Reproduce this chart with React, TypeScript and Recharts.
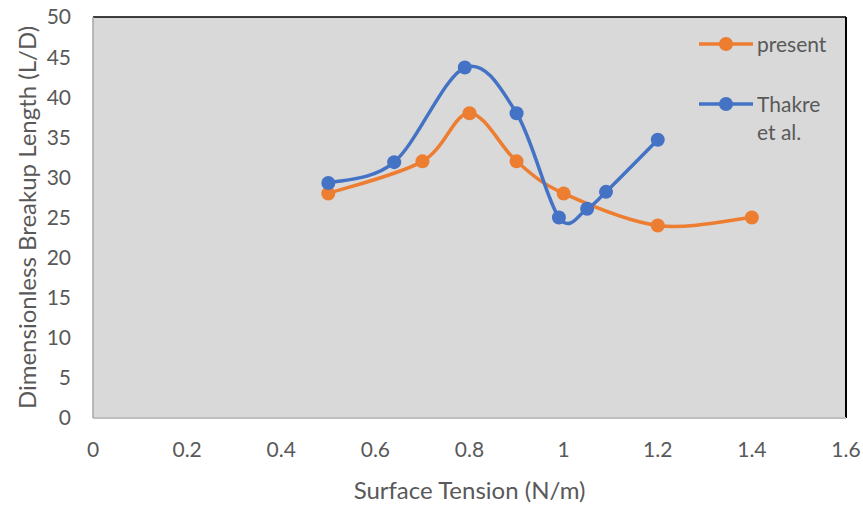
import { LineChart, Line, XAxis, YAxis, CartesianGrid, Legend, ReferenceLine } from 'recharts';

const xTicks = [0, 0.2, 0.4, 0.6, 0.8, 1, 1.2, 1.4, 1.6];
const yTicks = [0, 5, 10, 15, 20, 25, 30, 35, 40, 45, 50];

const seriesNames = ['present', 'Thakre et al.'];

const presentTension = [0.5, 0.7, 0.8, 0.9, 1.0, 1.2, 1.4];
const presentLength = [28, 32, 38, 32, 28, 24, 25];

const thakreTension = [0.5, 0.64, 0.79, 0.9, 0.99, 1.05, 1.09, 1.2];
const thakreLength = [29.3, 31.9, 43.7, 38, 25, 26.1, 28.2, 34.7];

const ORANGE = '#ED7D31';
const BLUE = '#4472C4';
const TEXT = '#595959';
const FONT = 'Lato, "Open Sans", sans-serif';

const present = presentTension.map((x, i) => ({ x, y: presentLength[i] }));
const thakre = thakreTension.map((x, i) => ({ x, y: thakreLength[i] }));

// cardinal spline (tension 0) through every point, like a spreadsheet "smoothed line"
const smoothCurve = (context: any) => {
  let pts: number[][] = [];
  return {
    areaStart() {},
    areaEnd() {},
    lineStart() {
      pts = [];
    },
    point(x: number, y: number) {
      pts.push([+x, +y]);
    },
    lineEnd() {
      const n = pts.length;
      if (!n) return;
      context.moveTo(pts[0][0], pts[0][1]);
      for (let i = 0; i < n - 1; i++) {
        const p0 = pts[i > 0 ? i - 1 : 0];
        const p1 = pts[i];
        const p2 = pts[i + 1];
        const p3 = pts[i + 2 < n ? i + 2 : n - 1];
        context.bezierCurveTo(
          p1[0] + (p2[0] - p0[0]) / 6, p1[1] + (p2[1] - p0[1]) / 6,
          p2[0] - (p3[0] - p1[0]) / 6, p2[1] - (p3[1] - p1[1]) / 6,
          p2[0], p2[1],
        );
      }
    },
  };
};

const legendItems = [
  { name: seriesNames[0], color: ORANGE },
  { name: seriesNames[1], color: BLUE },
];

function LegendBlock() {
  return (
    <div style={{ fontFamily: FONT, fontSize: 21, color: TEXT }}>
      {legendItems.map((item) => (
        <div key={item.name} style={{ display: 'flex', alignItems: 'flex-start', marginBottom: 32 }}>
          <svg width={60} height={28} style={{ flex: 'none' }}>
            <line x1={2} y1={14} x2={56} y2={14} stroke={item.color} strokeWidth={3.5} />
            <circle cx={29} cy={14} r={7} fill={item.color} />
          </svg>
          <span style={{ lineHeight: '28px', width: 78 }}>{item.name}</span>
        </div>
      ))}
    </div>
  );
}

export default function App() {
  return (
    <div style={{ position: 'absolute', left: 0, top: 0, background: '#fff' }}>
      <LineChart width={863} height={505} margin={{ top: 17, right: 17, bottom: 0, left: 0 }}>
        <CartesianGrid horizontal={false} vertical={false} fill="#D9D9D9" />
        <XAxis
          type="number"
          dataKey="x"
          domain={[0, 1.6]}
          ticks={xTicks}
          tickLine={false}
          tickSize={0}
          tickMargin={24}
          height={87}
          axisLine={{ stroke: '#BFBFBF', strokeWidth: 2 }}
          tick={{ fill: TEXT, fontSize: 21, fontFamily: FONT }}
          label={{ value: 'Surface Tension (N/m)', position: 'insideBottom', offset: 6, fill: TEXT, fontSize: 24, fontFamily: FONT }}
        />
        <YAxis
          type="number"
          domain={[0, 50]}
          ticks={yTicks}
          tickLine={false}
          tickSize={0}
          tickMargin={22}
          width={93}
          axisLine={{ stroke: '#A6A6A6', strokeWidth: 1.5 }}
          tick={{ fill: TEXT, fontSize: 21, fontFamily: FONT }}
          label={{
            value: 'Dimensionless Breakup Length (L/D)',
            angle: -90,
            position: 'insideLeft',
            offset: 27,
            fill: TEXT,
            fontSize: 24,
            fontFamily: FONT,
            style: { textAnchor: 'middle' },
          }}
        />
        <ReferenceLine y={50} stroke="#000" strokeWidth={1.5} />
        <ReferenceLine x={1.6} stroke="#000" strokeWidth={2} />
        <Legend
          layout="vertical"
          align="center"
          verticalAlign="middle"
          wrapperStyle={{ position: 'absolute', left: 697, top: 30, width: 140 }}
          content={() => <LegendBlock />}
        />
        <Line
          data={present}
          dataKey="y"
          name={seriesNames[0]}
          type={smoothCurve as any}
          stroke={ORANGE}
          strokeWidth={3.5}
          dot={{ r: 7, fill: ORANGE, stroke: ORANGE, strokeWidth: 0 }}
          activeDot={false}
          isAnimationActive={false}
        />
        <Line
          data={thakre}
          dataKey="y"
          name={seriesNames[1]}
          type={smoothCurve as any}
          stroke={BLUE}
          strokeWidth={3.5}
          dot={{ r: 7, fill: BLUE, stroke: BLUE, strokeWidth: 0 }}
          activeDot={false}
          isAnimationActive={false}
        />
      </LineChart>
    </div>
  );
}
